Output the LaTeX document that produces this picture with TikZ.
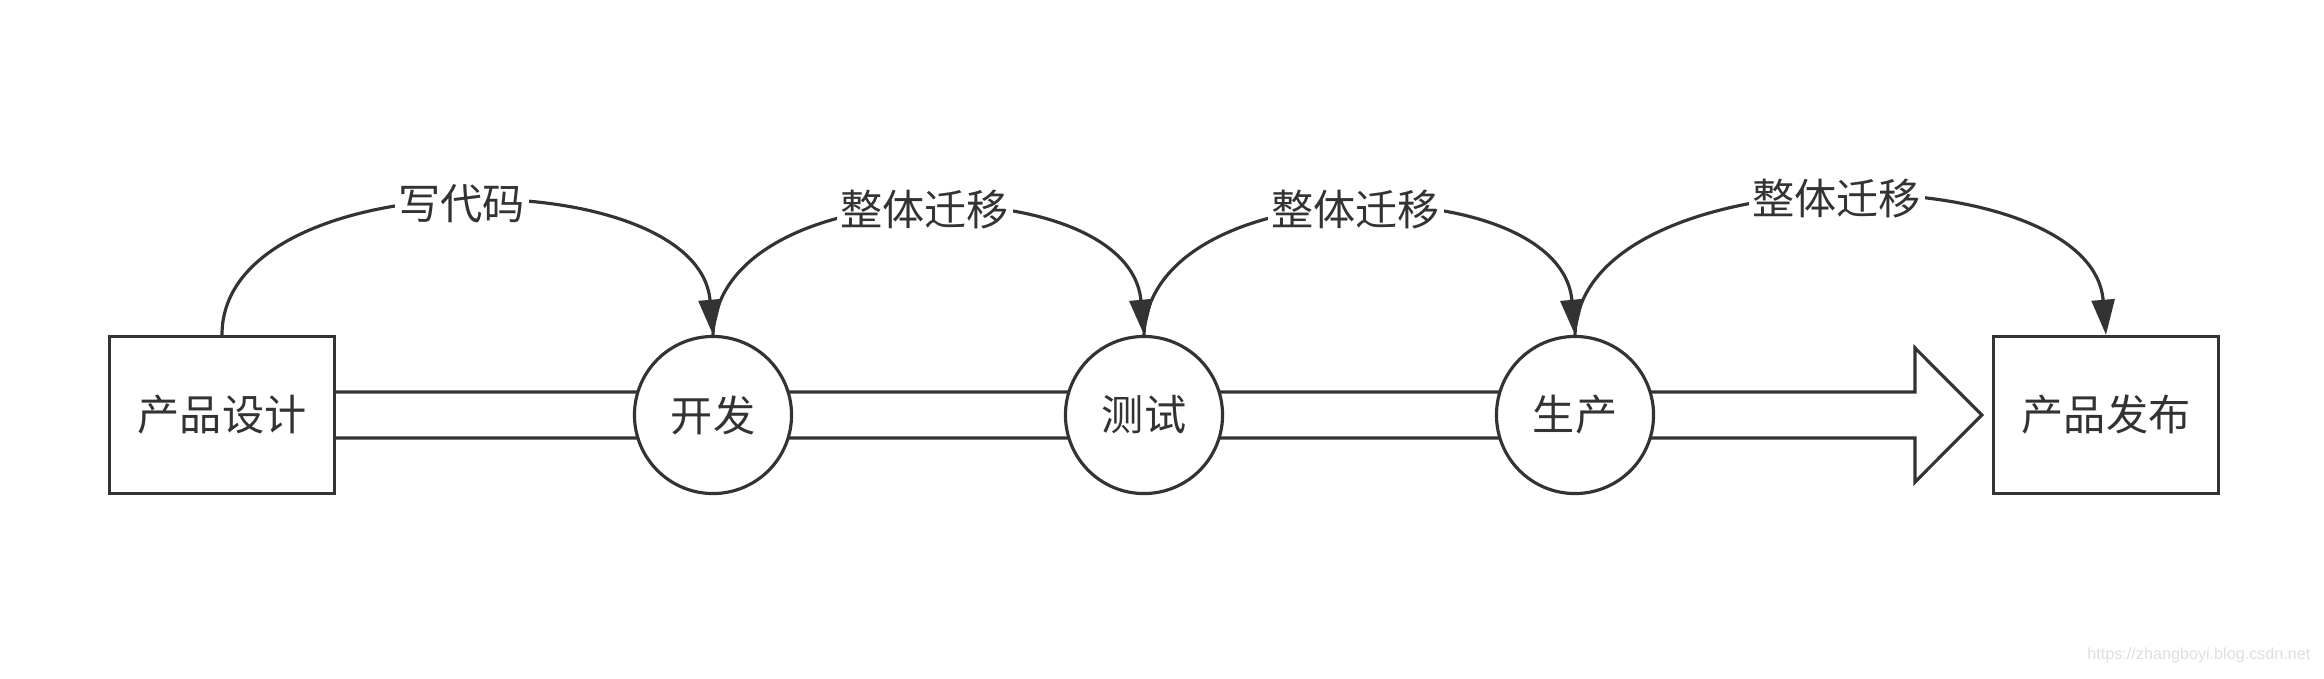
\documentclass[tikz,border=0pt]{standalone}
\usepackage{fontspec}
\newfontfamily\cjk{Noto Sans CJK SC}
\newfontfamily\wmfont{Liberation Sans}
\usetikzlibrary{arrows.meta,calc,backgrounds}
\definecolor{ink}{HTML}{333333}
\begin{document}
\begin{tikzpicture}[x=0.01cm,y=-0.01cm, line width=0.9pt,
  every node/.style={font=\cjk\fontsize{12}{14}\selectfont, text=ink},
  boxnode/.style={draw=ink, fill=white, minimum width=2.25cm, minimum height=1.57cm, inner sep=0pt},
  circnode/.style={draw=ink, circle, fill=white, minimum size=1.57cm, inner sep=0pt},
  flow/.style={draw=ink, -{Triangle[length=10pt,width=6.5pt]}},
  lbl/.style={fill=white, inner sep=1pt},
  band/.style={draw=ink, line width=0.9pt, line join=miter}]
\useasboundingbox (0,0) rectangle (2324,678);

\node[boxnode]  (b1)   at (222,415)  {产品设计};
\node[circnode] (dev)  at (713,415)  {开发};
\node[circnode] (test) at (1144,415) {测试};
\node[circnode] (prod) at (1575,415) {生产};
\node[boxnode]  (b2)   at (2106,415) {产品发布};

\coordinate (tip) at ($(b2.west)+(-10,0)$);
\begin{scope}[on background layer]
  \fill[white] ($(b1.east)+(0,-23)$) -- (1915,392) -- (1915,348) -- (tip)
     -- (1915,482) -- (1915,438) -- ($(b1.east)+(0,23)$) -- cycle;
  \draw[band] ($(b1.east)+(0,-23)$) -- (1915,392) -- (1915,348) -- (tip)
     -- (1915,482) -- (1915,438) -- ($(b1.east)+(0,23)$);
\end{scope}

\draw[flow] (b1.north) .. controls (222,160) and (698,160) .. node[lbl] {写代码} (dev.north);
\draw[flow] (dev.north) .. controls (718,168) and (1129,168) .. node[lbl] {整体迁移} (test.north);
\draw[flow] (test.north) .. controls (1149,168) and (1560,168) .. node[lbl] {整体迁移} (prod.north);
\draw[flow] (prod.north) .. controls (1580,153) and (2091,153) .. node[lbl] {整体迁移} (b2.north);

\node[font=\wmfont\fontsize{4.6}{5.5}\selectfont, text=black!13, anchor=east, inner sep=0pt] (wm) at (2312,655) {https://zhangboyi.blog.csdn.net};
\end{tikzpicture}
\end{document}
